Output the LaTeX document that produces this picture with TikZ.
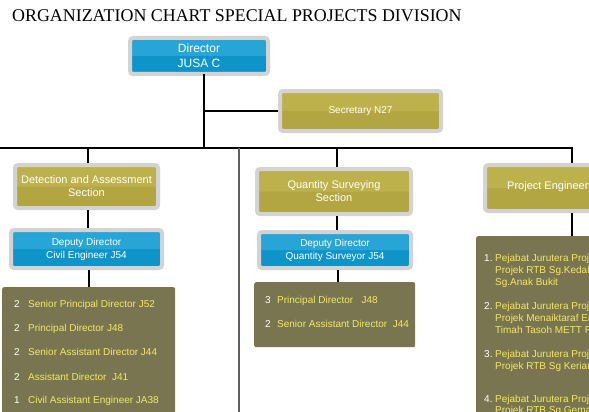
\documentclass[tikz,border=0pt]{standalone}
\usepackage{fontspec}
\setmainfont{Liberation Serif}
\setsansfont{Liberation Sans}
\definecolor{framegray}{HTML}{D3D3D3}
\definecolor{bluehi}{HTML}{28A5D7}
\definecolor{bluelo}{HTML}{0F94CA}
\definecolor{goldhi}{HTML}{BDB14B}
\definecolor{goldlo}{HTML}{B2A643}
\definecolor{listol}{HTML}{7A7551}
\definecolor{itemyel}{HTML}{F3EA5C}
\definecolor{divgray}{HTML}{606060}
\begin{document}
\begin{tikzpicture}[x=1pt,y=-1pt,
  conn/.style={line width=1.8pt, draw=black},
  divider/.style={line width=1.5pt, draw=divgray},
  framed/.style={draw=framegray, line width=4pt, rounded corners=3pt, inner sep=0pt,
    text=white, align=center},
  bluebox/.style={framed, fill=bluelo,
    path picture={\fill[bluehi] (path picture bounding box.north west) rectangle (path picture bounding box.east);}},
  goldbox/.style={framed, fill=goldlo,
    path picture={\fill[goldhi] (path picture bounding box.north west) rectangle (path picture bounding box.east);}},
  listbox/.style={fill=listol, rounded corners=2pt, inner sep=0pt, anchor=north west},
  numtxt/.style={text=white, font=\sffamily\fontsize{10}{12}\selectfont, anchor=west,
    text height=7pt, text depth=2pt, inner sep=0pt},
  itemtxt/.style={numtxt, text=itemyel},
  headtxt/.style={text=white, font=\sffamily\fontsize{11}{13}\selectfont, anchor=west, inner sep=0pt}
]
\useasboundingbox (0,0) rectangle (589,412);
\fill[white] (0,0) rectangle (589,412);
\clip (0,0) rectangle (589,412);

% title
\node[anchor=base west, inner sep=0pt, font=\fontsize{17.9}{20}\selectfont] (title) at (12,22)
  {ORGANIZATION CHART SPECIAL PROJECTS DIVISION};

% boxes
\node[bluebox, minimum width=138, minimum height=36, font=\sffamily\fontsize{12}{15}\selectfont]
  (dir) at (199,56) {Director\\JUSA C};
\node[goldbox, minimum width=161, minimum height=40, font=\sffamily\fontsize{10}{12}\selectfont]
  (sec) at (360.5,111) {Secretary N27};
\node[goldbox, minimum width=143, minimum height=43, font=\sffamily\fontsize{11}{13}\selectfont]
  (das) at (86.5,186.5) {Detection and Assessment\\Section};
\node[bluebox, minimum width=151, minimum height=38, font=\sffamily\fontsize{10}{13}\selectfont]
  (ddce) at (86.5,249) {Deputy Director\\Civil Engineer J54};
\node[goldbox, minimum width=154, minimum height=45, font=\sffamily\fontsize{11}{13}\selectfont]
  (qss) at (334,191.5) {Quantity Surveying\\Section};
\node[bluebox, minimum width=152, minimum height=36, font=\sffamily\fontsize{10}{13}\selectfont]
  (ddqs) at (335,250) {Deputy Director\\Quantity Surveyor J54};
\node[goldbox, minimum width=174, minimum height=46] (pe) at (572,188) {};
\node[headtxt] (petext) at (507,187) {Project Engineer};

% list boxes
\node[listbox, minimum width=173, minimum height=140] (celist) at (2,287) {};
\node[listbox, minimum width=161, minimum height=65] (qslist) at (254,282) {};
\node[listbox, minimum width=190, minimum height=200] (pelist) at (476,236) {};

% civil engineer list
\foreach \n/\t/\y [count=\i] in {2/Senior Principal Director J52/305,
    2/Principal Director J48/329,
    2/Senior Assistant Director J44/353,
    2/Assistant Director\ \ J41/378,
    1/Civil Assistant Engineer JA38/401}{
  \node[numtxt] (cen\i) at (14,\y) {\n};
  \node[itemtxt] (cet\i) at (28,\y) {\t};
}

% quantity surveying list
\node[numtxt] (qsn1) at (265,301) {3};
\node[itemtxt] (qst1) at (277,301) {Principal Director\ \ \ J48};
\node[numtxt] (qsn2) at (265,325) {2};
\node[itemtxt] (qst2) at (277,325) {Senior Assistant Director\ \ J44};

% project engineer list
\node[numtxt] (pen1) at (484,259) {1.};
\node[itemtxt] (pet1a) at (495,259) {Pejabat Jurutera Projek};
\node[itemtxt] (pet1b) at (495,271) {Projek RTB Sg.Kedah};
\node[itemtxt] (pet1c) at (495,283) {Sg.Anak Bukit};
\node[numtxt] (pen2) at (484,307) {2.};
\node[itemtxt] (pet2a) at (495,307) {Pejabat Jurutera Projek};
\node[itemtxt] (pet2b) at (495,319) {Projek Menaiktaraf Empangan};
\node[itemtxt] (pet2c) at (495,331) {Timah Tasoh METT Fasa};
\node[numtxt] (pen3) at (484,355) {3.};
\node[itemtxt] (pet3a) at (495,355) {Pejabat Jurutera Projek};
\node[itemtxt] (pet3b) at (495,367) {Projek RTB Sg Kerian};
\node[numtxt] (pen4) at (484,400) {4.};
\node[itemtxt] (pet4a) at (495,400) {Pejabat Jurutera Projek};
\node[itemtxt] (pet4b) at (495,411) {Projek RTB Sg.Gemas};

% connectors
\coordinate (busL) at (0,148);
\coordinate (busR) at (572,148);
\coordinate (dirdrop) at (204,74);
\coordinate (secbr) at (204,111);
\coordinate (divtop) at (239,148);
\coordinate (divbot) at (239,412);
\draw[conn] (dirdrop) -- (dirdrop |- busL);
\draw[conn] (secbr) -- (sec.west);
\draw[conn] (busL) -- (busR) -- (pe.north);
\draw[conn] ([xshift=1.5pt]das.north |- busL) -- ([xshift=1.5pt]das.north);
\draw[conn] ([xshift=1.5pt]das.south) -- ([xshift=1.5pt]ddce.north);
\draw[conn] ([xshift=2.5pt]ddce.south) -- ([xshift=2.5pt]ddce.south |- celist.north);
\draw[conn] ([xshift=3pt]qss.north |- busL) -- ([xshift=3pt]qss.north);
\draw[conn] ([xshift=3pt]qss.south) -- ([xshift=3pt]qss.south |- ddqs.north);
\draw[conn] ([xshift=3pt]ddqs.south) -- ([xshift=3pt]ddqs.south |- qslist.north);
\draw[conn] (pe.south) -- (pe.south |- pelist.north);
\draw[divider] (divtop) -- (divbot);
\end{tikzpicture}
\end{document}
